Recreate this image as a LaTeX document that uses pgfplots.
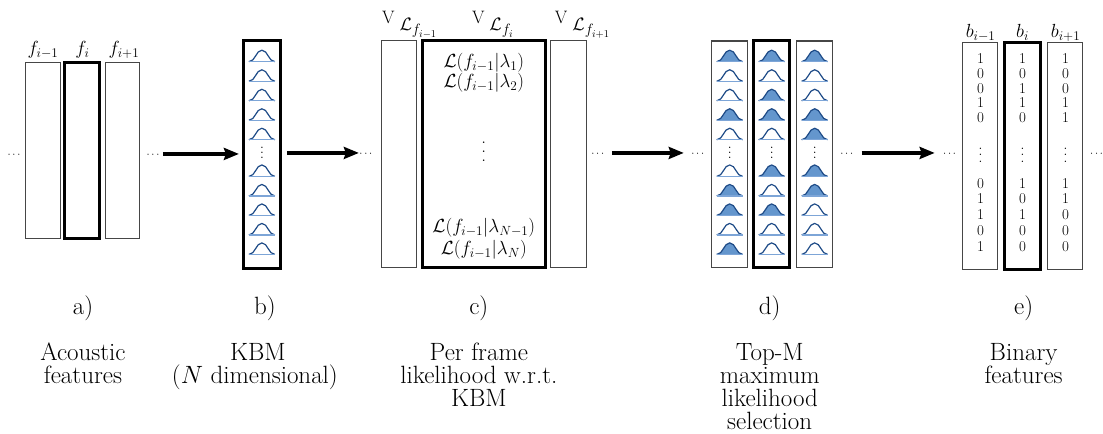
\RequirePackage{fix-cm}
\documentclass[border=0pt]{standalone}
\usepackage{pgfplots}
\pgfplotsset{compat=1.18}
\usetikzlibrary{arrows.meta}

\definecolor{gline}{RGB}{30,75,135}
\definecolor{gfill}{RGB}{100,150,205}
\definecolor{gbase}{RGB}{125,165,215}
\definecolor{boxgray}{RGB}{70,70,70}

% bell shaped mark, anchored at the middle of its base line
\pgfdeclareplotmark{bell}{%
  \pgfpathmoveto{\pgfqpoint{-13pt}{0pt}}%
  \pgfpathcurveto{\pgfqpoint{-6.5pt}{0pt}}{\pgfqpoint{-6pt}{11.5pt}}{\pgfqpoint{0pt}{11.5pt}}%
  \pgfpathcurveto{\pgfqpoint{6pt}{11.5pt}}{\pgfqpoint{6.5pt}{0pt}}{\pgfqpoint{13pt}{0pt}}%
  \pgfusepathqfillstroke
  \begin{pgfscope}
  \pgfsetstrokecolor{gbase}%
  \pgfpathmoveto{\pgfqpoint{-13pt}{0pt}}%
  \pgfpathlineto{\pgfqpoint{13pt}{0pt}}%
  \pgfusepathqstroke
  \end{pgfscope}}

\newcommand\VL[1]{{\fontsize{18}{18}\selectfont V}\hspace{5pt}\raisebox{-7pt}{\fontsize{18}{18}\selectfont$\mathcal{L}$}\raisebox{-11pt}{\fontsize{15}{15}\selectfont$f_{#1}$}}
% vertical dots with a chosen gap
\newcommand\vd[1]{\vbox{\baselineskip#1\lineskiplimit0pt\hbox{.}\hbox{.}\hbox{.}}}

\tikzset{
  thinbox/.style={draw=boxgray, line width=1.1pt},
  thickbox/.style={draw=black, line width=3pt},
  arr/.style={line width=3.2pt, -{Stealth[length=15pt, width=12pt, inset=2pt]}},
  dots/.style={font=\fontsize{11}{11}\selectfont, inner sep=0pt},
  desc/.style={font=\fontsize{25}{25}\selectfont, anchor=base, inner sep=0pt},
  lab/.style={font=\fontsize{19}{19}\selectfont, anchor=base, inner sep=0pt},
  vdt/.style={font=\fontsize{#1}{#1}\selectfont, inner sep=0pt},
  bits/.style={font=\fontsize{15}{#1}\selectfont, align=center, anchor=north, inner sep=0pt},
}
\pgfplotsset{bell/.style={only marks, mark=bell, mark options={draw=gline, line width=1.2pt, fill=#1}}}

\begin{document}
\begin{tikzpicture}
\begin{axis}[x=1pt, y=1pt, xmin=0, xmax=1103, ymin=0, ymax=434,
  y dir=reverse, hide axis, clip=false, scale only axis]
\path (0,0) rectangle (1103,434);

% ---------- a) acoustic features
\draw[thinbox] (25.7,62.7) rectangle (60.7,239);
\draw[thickbox] (65,62.7) rectangle (100,239);
\draw[thinbox] (105.7,62.7) rectangle (140,239);
\node[lab] at (43,55) {$f_{i-1}$};
\node[lab] at (82.5,55) {$f_{i}$};
\node[lab] at (124,55) {$f_{i+1}$};
\node[dots] at (14,155) {$\cdots$};
\node[dots] at (153,155) {$\cdots$};
\draw[arr] (163,154) -- (239,154);

% ---------- b) KBM
\draw[thickbox] (244,40.7) rectangle (280.7,268.7);
\addplot[bell=white] coordinates {(262,61.7) (262,81.3) (262,100.8) (262,120.3) (262,139.8)
  (262,176.5) (262,196) (262,215.5) (262,235) (262,254.5)};
\node[vdt=14] at (262,153) {\vd{5pt}};
\draw[arr] (287,153) -- (359,153);

% ---------- c) likelihoods
\draw[thinbox] (381.7,40.7) rectangle (416.7,268);
\draw[thickbox] (422.7,40.7) rectangle (545.7,268);
\draw[thinbox] (551,40.7) rectangle (586.7,268);
\node[anchor=base west, inner sep=0pt] at (382,24) {\VL{i-1}};
\node[anchor=base west, inner sep=0pt] at (472,24) {\VL{i}};
\node[anchor=base west, inner sep=0pt] at (555,24) {\VL{i+1}};
\node[font=\fontsize{19}{19}\selectfont, anchor=base] at (484,68) {$\mathcal{L}(f_{i-1}|\lambda_1)$};
\node[font=\fontsize{19}{19}\selectfont, anchor=base] at (484,88) {$\mathcal{L}(f_{i-1}|\lambda_2)$};
\node[vdt=19] at (484,152) {\vd{9pt}};
\node[font=\fontsize{19}{19}\selectfont, anchor=base] at (484,233) {$\mathcal{L}(f_{i-1}|\lambda_{N-1})$};
\node[font=\fontsize{19}{19}\selectfont, anchor=base] at (484,255) {$\mathcal{L}(f_{i-1}|\lambda_N)$};
\node[dots] at (366,154) {$\cdots$};
\node[dots] at (598,154) {$\cdots$};
\draw[arr] (612,153) -- (684,153);

% ---------- d) top-M selection
\draw[thinbox] (712,41) rectangle (748,268);
\draw[thickbox] (754,41) rectangle (790,268);
\draw[thinbox] (797,41) rectangle (833,268);
\addplot[bell=gfill] coordinates {(730,61.7) (730,120.3) (730,196) (730,215.5) (730,254.5)};
\addplot[bell=white] coordinates {(730,81.3) (730,100.8) (730,139.8) (730,176.5) (730,235)};
\addplot[bell=gfill] coordinates {(772,61.7) (772,100.8) (772,120.3) (772,176.5) (772,215.5)};
\addplot[bell=white] coordinates {(772,81.3) (772,139.8) (772,196) (772,235) (772,254.5)};
\addplot[bell=gfill] coordinates {(815,61.7) (815,120.3) (815,139.8) (815,176.5) (815,196)};
\addplot[bell=white] coordinates {(815,81.3) (815,100.8) (815,215.5) (815,235) (815,254.5)};
\node[vdt=14] at (730,153) {\vd{5pt}};
\node[vdt=14] at (772,153) {\vd{5pt}};
\node[vdt=14] at (815,153) {\vd{5pt}};
\node[dots] at (698,154) {$\cdots$};
\node[dots] at (847,154) {$\cdots$};
\draw[arr] (862,153) -- (935,153);

% ---------- e) binary features
\draw[thinbox] (963,42.7) rectangle (998,270);
\draw[thickbox] (1005,42.7) rectangle (1040.7,270);
\draw[thinbox] (1048,42.7) rectangle (1083,270);
\node[lab] at (981,38) {$b_{i-1}$};
\node[lab] at (1023,38) {$b_{i}$};
\node[lab] at (1066,38) {$b_{i+1}$};
\node[bits=14.8] at (981,53.5) {1\\0\\0\\1\\0};
\node[bits=14.8] at (1023,53.5) {1\\0\\1\\1\\0};
\node[bits=14.8] at (1066,53.5) {1\\0\\0\\1\\1};
\node[bits=15.8] at (981,178) {0\\1\\1\\0\\1};
\node[bits=15.8] at (1023,178) {1\\0\\1\\0\\0};
\node[bits=15.8] at (1066,178) {1\\1\\0\\0\\0};
\node[vdt=14] at (981,155) {\vd{6.5pt}};
\node[vdt=14] at (1023,155) {\vd{6.5pt}};
\node[vdt=14] at (1066,155) {\vd{6.5pt}};
\node[dots] at (950,154) {$\cdots$};
\node[dots] at (1097,154) {$\cdots$};

% ---------- captions
\node[desc] at (83,315) {a)};
\node[desc] at (265,315) {b)};
\node[desc] at (479,315) {c)};
\node[desc] at (770,315) {d)};
\node[desc] at (1024,315) {e)};

\node[desc] at (83,361) {Acoustic};
\node[desc] at (83,384) {features};
\node[desc] at (258,361) {KBM};
\node[desc] at (255,384) {($N$ dimensional)};
\node[desc] at (479,361) {Per frame};
\node[desc] at (479,384) {likelihood w.r.t.};
\node[desc] at (479,407) {KBM};
\node[desc] at (770,361) {Top-M};
\node[desc] at (770,384) {maximum};
\node[desc] at (770,407) {likelihood};
\node[desc] at (770,430) {selection};
\node[desc] at (1024,361) {Binary};
\node[desc] at (1024,384) {features};
\end{axis}
\end{tikzpicture}
\end{document}
